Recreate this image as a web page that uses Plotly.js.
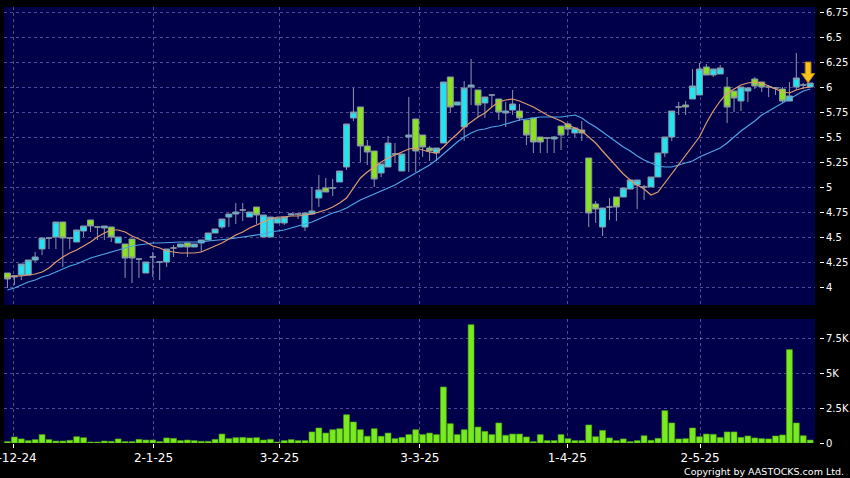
<!DOCTYPE html>
<html><head><meta charset="utf-8">
<script src="https://cdn.plot.ly/plotly-3.0.1.min.js"></script>
<style>html,body{margin:0;padding:0;background:#000;}#chart{width:850px;height:478px;}</style>
</head><body><div id="chart"></div>
<script>
// ---- data (one entry per trading day) ----
const opens = [4.14,4.10,4.12,4.12,4.27,4.38,4.49,4.50,4.65,4.49,4.45,4.56,4.67,4.60,4.59,4.60,4.44,4.43,4.48,4.28,
4.14,4.30,4.25,4.25,4.39,4.40,4.44,4.40,4.44,4.47,4.54,4.60,4.70,4.73,4.77,4.70,4.80,4.50,4.50,4.64,
4.64,4.72,4.73,4.60,4.73,4.89,4.99,4.99,5.05,5.20,5.69,5.80,5.41,5.36,5.14,5.20,5.33,5.16,5.50,5.68,
5.52,5.39,5.34,5.44,6.10,5.82,5.60,6.00,5.97,5.84,5.92,5.88,5.74,5.77,5.76,5.67,5.69,5.50,5.49,5.48,
5.61,5.63,5.54,5.57,5.29,4.83,4.60,4.80,4.90,4.90,4.98,5.02,5.00,5.00,5.10,5.34,5.50,5.80,5.82,5.88,
5.92,6.20,6.12,6.13,6.00,5.96,5.86,5.96,6.08,6.05,6.00,5.99,5.98,5.86,6.00,6.02,6.00];
const highs = [4.14,4.12,4.23,4.27,4.35,4.49,4.50,4.65,4.65,4.49,4.57,4.61,4.67,4.60,4.61,4.60,4.50,4.43,4.48,4.28,
4.25,4.35,4.25,4.38,4.42,4.43,4.44,4.43,4.47,4.54,4.58,4.68,4.73,4.84,4.84,4.75,4.80,4.72,4.70,4.69,
4.70,4.74,4.73,4.74,5.00,5.12,5.09,5.08,5.16,5.63,5.99,5.80,5.47,5.36,5.23,5.51,5.44,5.33,5.90,5.68,
5.52,5.41,5.39,6.05,6.10,5.85,6.06,6.28,5.97,5.90,5.93,5.88,5.85,5.97,5.83,5.67,5.69,5.50,5.49,5.51,
5.61,5.64,5.60,5.66,5.29,4.86,4.79,4.89,4.90,4.99,5.07,5.07,5.02,5.10,5.34,5.50,5.76,5.85,5.86,6.18,
6.24,6.23,6.18,6.22,6.10,5.96,6.00,6.00,6.10,6.05,6.02,6.00,6.00,6.05,6.34,6.04,6.04];
const lows = [3.99,4.02,4.07,4.12,4.25,4.32,4.38,4.38,4.20,4.38,4.45,4.50,4.55,4.47,4.47,4.45,4.44,4.09,4.04,4.09,
4.14,4.10,4.07,4.20,4.30,4.40,4.30,4.40,4.35,4.47,4.54,4.58,4.60,4.63,4.66,4.70,4.63,4.50,4.50,4.64,
4.62,4.72,4.68,4.56,4.73,4.80,4.95,4.91,5.05,5.17,5.66,5.25,5.22,5.00,5.10,5.20,5.24,5.16,5.15,5.15,
5.30,5.26,5.26,5.44,5.74,5.82,5.46,5.82,5.70,5.69,5.80,5.67,5.60,5.72,5.66,5.42,5.34,5.34,5.34,5.34,
5.37,5.52,5.50,5.46,4.60,4.64,4.51,4.67,4.66,4.90,4.98,4.78,4.87,5.00,5.10,5.30,5.46,5.72,5.72,5.88,
5.92,6.12,6.10,6.13,5.64,5.75,5.76,5.85,5.98,5.95,5.90,5.92,5.84,5.86,5.97,5.98,6.00];
const closes = [4.08,4.11,4.23,4.27,4.30,4.49,4.49,4.65,4.49,4.49,4.57,4.61,4.61,4.60,4.61,4.50,4.50,4.29,4.29,4.28,
4.25,4.30,4.25,4.38,4.39,4.43,4.40,4.43,4.47,4.54,4.58,4.68,4.73,4.75,4.77,4.75,4.72,4.72,4.70,4.69,
4.70,4.73,4.73,4.74,4.76,4.97,4.95,4.99,5.16,5.63,5.75,5.41,5.35,5.08,5.23,5.44,5.33,5.33,5.52,5.36,
5.40,5.36,5.39,6.05,5.80,5.85,5.99,6.02,5.82,5.90,5.92,5.75,5.76,5.83,5.69,5.52,5.45,5.45,5.49,5.50,
5.52,5.58,5.59,5.54,4.74,4.78,4.79,4.80,4.80,4.99,5.07,5.07,5.00,5.10,5.34,5.50,5.76,5.80,5.80,6.01,
6.18,6.12,6.18,6.19,5.80,5.89,6.00,5.99,6.01,6.00,6.00,5.99,5.86,5.91,6.09,6.02,6.04];
// volume in thousands
const volumes = [0.10,0.43,0.29,0.17,0.24,0.60,0.24,0.14,0.14,0.19,0.45,0.38,0.07,0.07,0.14,0.12,0.29,0.10,0.10,0.26,
0.21,0.21,0.10,0.36,0.33,0.17,0.21,0.17,0.12,0.12,0.26,0.64,0.31,0.38,0.40,0.36,0.38,0.21,0.26,0.07,
0.17,0.24,0.17,0.17,0.79,1.07,0.71,0.95,1.02,2.02,1.50,0.95,0.48,1.02,0.48,0.71,0.31,0.40,0.60,0.95,
0.60,0.71,0.60,4.00,1.38,0.60,0.95,8.45,1.14,0.83,0.60,1.43,0.55,0.64,0.64,0.43,0.10,0.60,0.17,0.17,
0.60,0.31,0.17,0.17,1.29,0.45,0.90,0.36,0.17,0.29,0.10,0.17,0.52,0.19,0.33,2.31,1.43,0.29,0.31,1.07,
0.45,0.64,0.62,0.40,0.79,0.79,0.40,0.50,0.36,0.31,0.29,0.50,0.57,6.67,1.43,0.52,0.21];
const maShort = [4.10,4.11,4.11,4.12,4.13,4.15,4.19,4.25,4.30,4.34,4.37,4.41,4.45,4.50,4.54,4.57,4.57,4.55,4.51,4.48,
4.45,4.41,4.39,4.36,4.35,4.34,4.34,4.34,4.35,4.38,4.41,4.44,4.48,4.52,4.55,4.59,4.62,4.65,4.68,4.70,
4.70,4.71,4.71,4.72,4.73,4.75,4.77,4.80,4.84,4.89,4.99,5.09,5.15,5.20,5.25,5.29,5.32,5.35,5.38,5.39,
5.37,5.35,5.34,5.40,5.47,5.53,5.60,5.65,5.70,5.74,5.80,5.85,5.87,5.88,5.86,5.83,5.80,5.76,5.72,5.69,
5.66,5.62,5.59,5.56,5.50,5.44,5.36,5.28,5.20,5.13,5.07,5.02,4.98,4.92,4.95,5.04,5.13,5.22,5.31,5.41,
5.50,5.64,5.76,5.86,5.94,5.98,6.02,6.04,6.05,6.04,6.01,5.98,5.95,5.94,5.97,5.99,6.00];
const maLong = [3.97,3.99,4.02,4.05,4.07,4.10,4.12,4.15,4.18,4.21,4.23,4.26,4.29,4.31,4.33,4.35,4.37,4.39,4.41,4.42,
4.43,4.44,4.44,4.445,4.45,4.45,4.45,4.45,4.45,4.46,4.465,4.47,4.48,4.49,4.50,4.51,4.52,4.53,4.55,4.56,
4.57,4.59,4.61,4.63,4.65,4.68,4.71,4.74,4.76,4.79,4.83,4.87,4.90,4.93,4.96,4.99,5.02,5.06,5.10,5.14,
5.18,5.22,5.27,5.33,5.39,5.45,5.50,5.54,5.57,5.58,5.60,5.61,5.63,5.65,5.67,5.68,5.69,5.70,5.70,5.70,
5.70,5.71,5.72,5.69,5.64,5.60,5.55,5.50,5.45,5.40,5.36,5.31,5.27,5.24,5.21,5.20,5.20,5.22,5.24,5.26,
5.30,5.33,5.36,5.39,5.44,5.50,5.56,5.61,5.66,5.72,5.76,5.80,5.84,5.88,5.92,5.96,5.98];
const dateLabels = ["2-12-24","2-1-25","3-2-25","3-3-25","1-4-25","2-5-25"];
const priceTickVals = [4,4.25,4.5,4.75,5,5.25,5.5,5.75,6,6.25,6.5,6.75];
const priceTickText = ["4","4.25","4.5","4.75","5","5.25","5.5","5.75","6","6.25","6.5","6.75"];
const volTickVals = [0,2.5,5,7.5];
const volTickText = ["0","2.5K","5K","7.5K"];

(function () {
  // ---- layout constants ----
  const dateTickPos = [0.84,21.1,39.3,59.6,80.9,100.1];
  const xs = opens.map((_, i) => i);
  const last = xs.length - 1;
  const GRID = 'rgba(140,140,200,0.55)';
  const FONT = 'DejaVu Sans';

  const candles = {
    type: 'candlestick', x: xs, open: opens, high: highs, low: lows, close: closes,
    xaxis: 'x', yaxis: 'y', whiskerwidth: 0, hoverinfo: 'skip',
    increasing: {fillcolor: '#22e3f0', line: {color: '#8a96a8', width: 1}},
    decreasing: {fillcolor: '#8be21e', line: {color: '#8a96a8', width: 1}},
    showlegend: false
  };
  const lineLong = {type: 'scatter', mode: 'lines', x: xs, y: maLong, xaxis: 'x', yaxis: 'y',
    line: {color: '#4ea6e6', width: 1.2}, hoverinfo: 'skip', showlegend: false};
  const lineShort = {type: 'scatter', mode: 'lines', x: xs, y: maShort, xaxis: 'x', yaxis: 'y',
    line: {color: '#e09a6e', width: 1.2}, hoverinfo: 'skip', showlegend: false};
  const vol = {type: 'bar', x: xs, y: volumes, xaxis: 'x2', yaxis: 'y2', width: 0.85,
    marker: {color: '#78ea1e', line: {color: '#4fa814', width: 0.6}}, hoverinfo: 'skip', showlegend: false};

  // arrow above the last candle
  const ax = last - 0.3, tipY = highs[last], headY = tipY + 0.095, topY = tipY + 0.21;
  const arrowPath = `M ${ax-0.42},${topY} L ${ax+0.42},${topY} L ${ax+0.42},${headY} L ${ax+0.97},${headY} L ${ax},${tipY} L ${ax-0.97},${headY} L ${ax-0.42},${headY} Z`;

  const xRange = [-0.5, 116.7];
  const xDom = [0, 0.9951];
  const axisCommon = {showgrid: true, gridcolor: GRID, griddash: '3px,3px', gridwidth: 1, zeroline: false, showline: false};
  const layout = {
    width: 850, height: 478,
    margin: {l: 4, r: 31, t: 7, b: 35, pad: 0},
    paper_bgcolor: '#000000', plot_bgcolor: '#00004a',
    boxgap: 0.07, boxgroupgap: 0.07,
    showlegend: false, dragmode: false,
    xaxis: Object.assign({domain: xDom, anchor: 'y', range: xRange, rangeslider: {visible: false},
      tickmode: 'array', tickvals: dateTickPos, showticklabels: false, ticks: ''}, axisCommon),
    xaxis2: Object.assign({domain: xDom, anchor: 'y2', range: xRange,
      tickmode: 'array', tickvals: dateTickPos, ticktext: dateLabels, ticks: 'outside', ticklen: 4,
      tickcolor: '#ffffff', tickfont: {family: FONT, size: 12, color: '#ffffff'}, ticklabeloverflow: 'allow'}, axisCommon),
    yaxis: Object.assign({domain: [0.3165, 1], range: [3.82, 6.80], side: 'right', anchor: 'free', position: 1,
      tickmode: 'array', tickvals: priceTickVals, ticktext: priceTickText, ticks: 'outside', ticklen: 4,
      tickcolor: '#ffffff', tickfont: {family: FONT, size: 10, color: '#ffffff'}}, axisCommon),
    yaxis2: Object.assign({domain: [0, 0.2844], range: [0, 8.857], side: 'right', anchor: 'free', position: 1,
      tickmode: 'array', tickvals: volTickVals, ticktext: volTickText, ticks: 'outside', ticklen: 4,
      tickcolor: '#ffffff', tickfont: {family: FONT, size: 10, color: '#ffffff'}}, axisCommon),
    shapes: [{type: 'path', xref: 'x', yref: 'y', path: arrowPath,
      fillcolor: '#f8c41c', line: {color: '#b07a10', width: 1}, layer: 'above'}],
    annotations: [{xref: 'paper', yref: 'paper', x: 1.0328, y: -0.0658, xanchor: 'right', yanchor: 'middle',
      text: 'Copyright by AASTOCKS.com Ltd.', showarrow: false,
      font: {family: FONT, size: 9.5, color: '#ffffff'}}]
  };

  Plotly.newPlot('chart', [candles, vol, lineLong, lineShort], layout, {staticPlot: true, displayModeBar: false});
})();
</script></body></html>
